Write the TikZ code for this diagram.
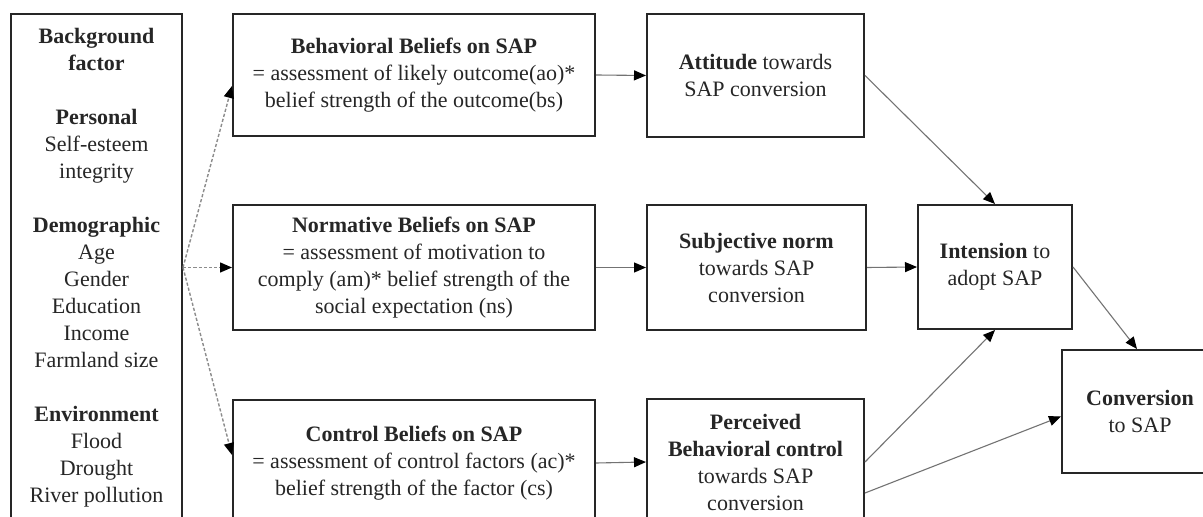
\documentclass[tikz,border=0pt]{standalone}
\usepackage{fontspec}
\setmainfont{Liberation Serif}
\usetikzlibrary{arrows.meta}
\begin{document}
\begin{tikzpicture}[x=0.5pt,y=-0.5pt,
  box/.style={draw=black!85, line width=1pt, align=center, inner sep=0pt,
    font=\fontsize{11}{13.5}\selectfont, text=black!85},
  conn/.style={draw=black!55, line width=0.55pt, -{Triangle[length=6pt,width=5pt,color=black]}},
  dconn/.style={draw=black!45, line width=0.7pt, dash pattern=on 1.6pt off 1pt, -{Triangle[length=6pt,width=5pt,color=black]}}]
\clip (0,0) rectangle (1203,517);
\fill[white] (0,0) rectangle (1203,517);
\node[box, minimum width=85.5pt, minimum height=253.5pt] (bg) at (96.5,267.5)
  {\textbf{Background}\\\textbf{factor}\\[13.5pt]\textbf{Personal}\\Self-esteem\\integrity\\[13.5pt]\textbf{Demographic}\\Age\\Gender\\Education\\Income\\Farmland size\\[13.5pt]\textbf{Environment}\\Flood\\Drought\\River pollution};
\node[box, minimum width=181pt, minimum height=61pt] (beh) at (414,75)
  {\textbf{Behavioral Beliefs on SAP}\\= assessment of likely outcome(ao)*\\belief strength of the outcome(bs)};
\node[box, minimum width=181pt, minimum height=62.5pt] (norm) at (414,267.5)
  {\textbf{Normative Beliefs on SAP}\\= assessment of motivation to\\comply (am)* belief strength of the\\social expectation (ns)};
\node[box, minimum width=181pt, minimum height=63pt] (ctrl) at (414,463)
  {\textbf{Control Beliefs on SAP}\\= assessment of control factors (ac)*\\belief strength of the factor (cs)};
\node[box, minimum width=108.5pt, minimum height=61.5pt] (att) at (755.5,75.5)
  {\textbf{Attitude} towards\\SAP conversion};
\node[box, minimum width=109.5pt, minimum height=62.5pt] (subj) at (756.5,267.5)
  {\textbf{Subjective norm}\\towards SAP\\conversion};
\node[box, minimum width=108.5pt, minimum height=63pt] (perc) at (755.5,462)
  {\textbf{Perceived}\\\textbf{Behavioral control}\\towards SAP\\conversion};
\node[box, minimum width=77pt, minimum height=62pt] (int) at (995,267)
  {\textbf{Intension} to\\adopt SAP};
\node[box, minimum width=78pt, minimum height=61.5pt] (conv) at (1140,411.5)
  {\textbf{Conversion}\\to SAP};
\draw[dconn] (bg.east) -- ([yshift=-5.5pt]beh.west);
\draw[dconn] (bg.east) -- (norm.west);
\draw[dconn] (bg.east) -- ([yshift=4pt]ctrl.west);
\draw[conn] (beh.east) -- (att.west);
\draw[conn] (norm.east) -- (subj.west);
\draw[conn] (ctrl.east) -- (perc.west);
\draw[conn] (att.east) -- (int.north);
\draw[conn] (subj.east) -- (int.west);
\draw[conn] (perc.east) -- (int.south);
\draw[conn] ([yshift=-15.5pt]perc.east) -- ([yshift=-2.5pt]conv.west);
\draw[conn] (int.east) -- ([xshift=-1.5pt]conv.north);
\end{tikzpicture}
\end{document}
